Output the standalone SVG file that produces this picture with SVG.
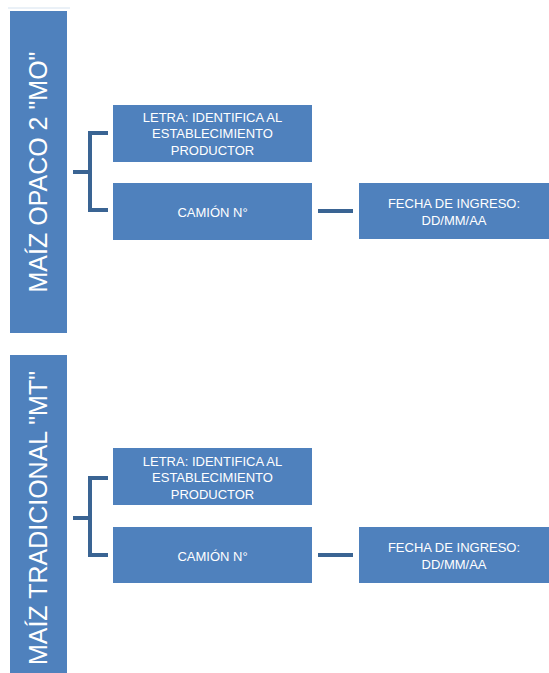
<svg xmlns="http://www.w3.org/2000/svg" width="549" height="673" viewBox="0 0 549 673">
  <style>
    .box { fill: #4F81BD; }
    .lbl { fill: #FFFFFF; font-family: "Liberation Sans", Arial, sans-serif; font-size: 13px; text-anchor: middle; dominant-baseline: central; }
    .big { fill: #FFFFFF; font-family: "Liberation Sans", Arial, sans-serif; font-size: 25px; text-anchor: middle; dominant-baseline: central; }
    .conn { fill: none; stroke: #3A6493; stroke-width: 4; stroke-linejoin: miter; }
  </style>
  <rect width="549" height="673" fill="#FFFFFF"/>
  <line x1="8" y1="8" x2="70" y2="8" stroke="#D5E2EF" stroke-width="1"/>

  <!-- connectors -->
  <g id="connectors">
    <path class="conn" d="M73 172 H90 M108 133 H90 V210 H108"/>
    <path class="conn" d="M318 211 H353"/>
    <path class="conn" d="M73 518 H90 M108 478 H90 V555 H108"/>
    <path class="conn" d="M318 555 H353"/>
  </g>

  <!-- upper tree -->
  <g id="maiz-opaco">
    <rect class="box" x="10" y="11" width="57" height="322"/>
    <text class="big" transform="translate(38 172) rotate(-90)">MAÍZ OPACO 2 "MO"</text>
  </g>
  <g id="letra-1">
    <rect class="box" x="113" y="105" width="199" height="57"/>
    <text class="lbl" x="212.5" y="117">LETRA: IDENTIFICA AL</text>
    <text class="lbl" x="212.5" y="133.5">ESTABLECIMIENTO</text>
    <text class="lbl" x="212.5" y="150">PRODUCTOR</text>
  </g>
  <g id="camion-1">
    <rect class="box" x="113" y="183" width="199" height="57"/>
    <text class="lbl" x="212.5" y="212">CAMIÓN N°</text>
  </g>
  <g id="fecha-1">
    <rect class="box" x="359" y="183" width="190" height="56"/>
    <text class="lbl" x="454" y="203">FECHA DE INGRESO:</text>
    <text class="lbl" x="454" y="220">DD/MM/AA</text>
  </g>

  <!-- lower tree -->
  <g id="maiz-tradicional">
    <rect class="box" x="10" y="355" width="57" height="318"/>
    <text class="big" transform="translate(38 518) rotate(-90)">MAÍZ TRADICIONAL "MT"</text>
  </g>
  <g id="letra-2">
    <rect class="box" x="113" y="448" width="199" height="57"/>
    <text class="lbl" x="212.5" y="461">LETRA: IDENTIFICA AL</text>
    <text class="lbl" x="212.5" y="477.5">ESTABLECIMIENTO</text>
    <text class="lbl" x="212.5" y="494">PRODUCTOR</text>
  </g>
  <g id="camion-2">
    <rect class="box" x="113" y="527" width="199" height="56"/>
    <text class="lbl" x="212.5" y="556">CAMIÓN N°</text>
  </g>
  <g id="fecha-2">
    <rect class="box" x="359" y="527" width="190" height="56"/>
    <text class="lbl" x="454" y="547">FECHA DE INGRESO:</text>
    <text class="lbl" x="454" y="564">DD/MM/AA</text>
  </g>
</svg>
